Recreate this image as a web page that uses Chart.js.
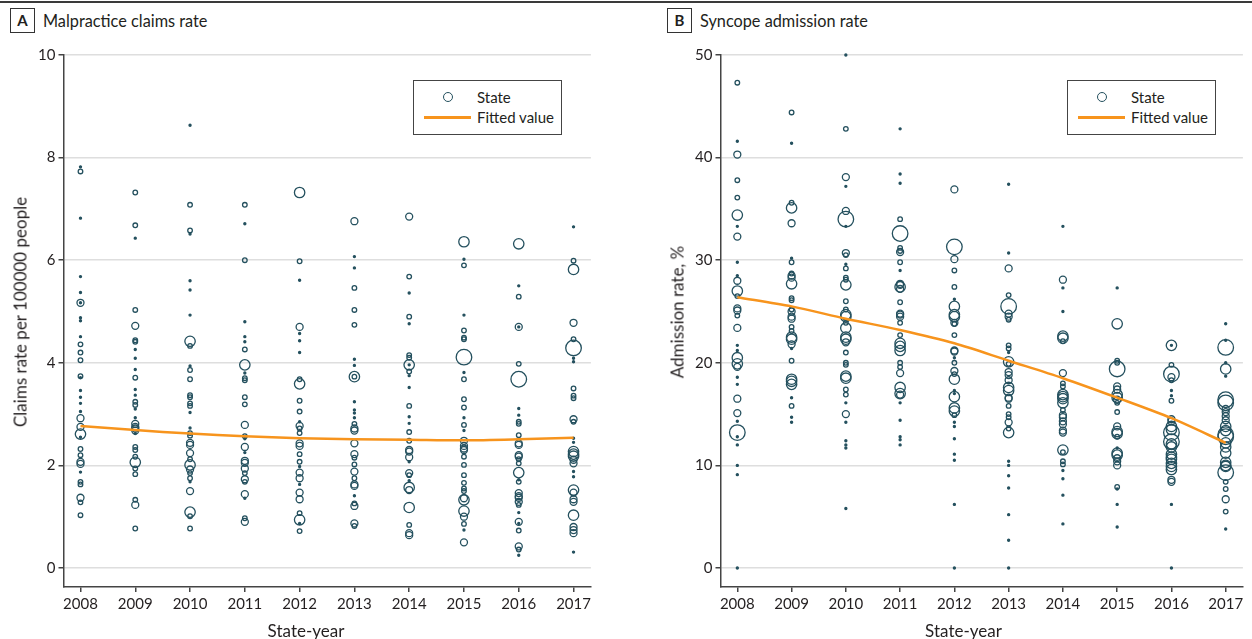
<!DOCTYPE html>
<html>
<head>
<meta charset="utf-8">
<script src="https://cdn.jsdelivr.net/npm/chart.js@4.4.1/dist/chart.umd.min.js"></script>
<style>
    body { margin: 0; width: 1252px; height: 639px; overflow: hidden; background: #fff; position: relative; font-family: Lato, sans-serif; color: #231f20; }
    canvas { position: absolute; top: 0; }
    .rule { position: absolute; left: 0; top: 1px; width: 1252px; height: 2px; background: #3a3a3a; }
    .tag { position: absolute; top: 8px; width: 23px; height: 23px; border: 1px solid #333; font-weight: bold; font-size: 15px; line-height: 23px; text-align: center; }
    .head { position: absolute; top: 8px; font-size: 16.3px; line-height: 25px; }
    .ytitle { position: absolute; font-size: 17px; white-space: nowrap; transform: translate(-50%, -50%) rotate(-90deg); }
    .xtitle { position: absolute; font-size: 17px; white-space: nowrap; transform: translate(-50%, -50%); }
    .legend { position: absolute; top: 80px; width: 147px; height: 53px; border: 1px solid #444; background: #fff; font-size: 15px; }
    .legend .mark { position: absolute; left: 29px; top: 11px; width: 8px; height: 8px; border: 1.5px solid #24505e; border-radius: 50%; }
    .legend .fit { position: absolute; left: 10px; top: 35px; width: 47px; height: 2.5px; background: #f7941d; }
    .legend span { position: absolute; left: 63px; line-height: 18px; }
</style>
</head>
<body>
<div class="rule"></div>

<div class="tag" style="left:10px">A</div>
<div class="head" style="left:43px">Malpractice claims rate</div>
<div class="tag" style="left:667px">B</div>
<div class="head" style="left:700px">Syncope admission rate</div>

<canvas id="claims" width="600" height="639" style="left:0"></canvas>
<canvas id="syncope" width="595" height="639" style="left:657px"></canvas>

<div class="ytitle" style="left:19.5px; top:312px">Claims rate per 100000 people</div>
<div class="xtitle" style="left:306px; top:630px">State-year</div>
<div class="ytitle" style="left:676.5px; top:312px">Admission rate, %</div>
<div class="xtitle" style="left:963.5px; top:630px">State-year</div>

<div class="legend" style="left:413px">
    <div class="mark"></div><span style="top:7px">State</span>
    <div class="fit"></div><span style="top:27px">Fitted value</span>
</div>
<div class="legend" style="left:1067px">
    <div class="mark"></div><span style="top:7px">State</span>
    <div class="fit"></div><span style="top:27px">Fitted value</span>
</div>

<script>
    const years = [2008, 2009, 2010, 2011, 2012, 2013, 2014, 2015, 2016, 2017];

    // Panel A: malpractice claims per 100000 people, one list per year
    const claimsRate = [
        [7.82, 7.73, 6.82, 5.68, 5.37, 5.17, 5.17, 4.88, 4.82, 4.51, 4.36, 4.20, 4.05, 3.74, 3.71, 3.46, 3.33, 3.21, 3.05, 2.92, 2.75, 2.61, 2.55, 2.32, 2.20, 2.07, 2.03, 1.87, 1.68, 1.63, 1.37, 1.28, 1.03],
        [7.32, 6.68, 6.43, 5.03, 4.72, 4.44, 4.41, 4.26, 4.09, 3.87, 3.71, 3.48, 3.37, 3.24, 3.18, 3.10, 2.93, 2.81, 2.75, 2.72, 2.68, 2.62, 2.36, 2.30, 2.17, 2.06, 1.94, 1.83, 1.33, 1.23, 0.77],
        [8.63, 7.08, 6.58, 6.51, 5.60, 5.42, 4.93, 4.42, 4.33, 3.94, 3.86, 3.68, 3.37, 3.33, 3.21, 3.16, 3.03, 2.73, 2.63, 2.58, 2.44, 2.40, 2.24, 2.12, 2.01, 1.92, 1.85, 1.75, 1.68, 1.50, 1.09, 1.01, 0.77],
        [7.08, 6.71, 6.00, 4.80, 4.51, 4.41, 4.26, 3.96, 3.80, 3.70, 3.66, 3.33, 3.19, 2.79, 2.57, 2.52, 2.36, 2.25, 2.09, 2.05, 1.94, 1.85, 1.73, 1.68, 1.44, 1.36, 0.97, 0.90],
        [7.32, 5.98, 5.61, 4.70, 4.57, 4.43, 4.20, 3.68, 3.59, 3.26, 3.05, 2.85, 2.77, 2.72, 2.63, 2.43, 2.38, 2.22, 2.07, 1.98, 1.86, 1.75, 1.63, 1.47, 1.34, 1.07, 0.94, 0.87, 0.72],
        [6.76, 6.07, 5.85, 5.46, 5.03, 4.74, 4.07, 3.95, 3.73, 3.73, 3.24, 3.08, 3.02, 2.93, 2.81, 2.72, 2.68, 2.43, 2.22, 2.15, 2.02, 1.88, 1.75, 1.63, 1.60, 1.41, 1.26, 1.21, 0.87, 0.82],
        [6.85, 5.68, 5.36, 4.90, 4.76, 4.15, 4.10, 3.96, 3.96, 3.83, 3.75, 3.52, 3.16, 2.95, 2.82, 2.65, 2.48, 2.30, 2.27, 2.16, 2.07, 1.85, 1.81, 1.70, 1.57, 1.52, 1.18, 0.84, 0.68, 0.64],
        [6.36, 6.02, 5.90, 4.93, 4.63, 4.49, 4.46, 4.11, 3.81, 3.68, 3.29, 3.13, 2.93, 2.79, 2.68, 2.48, 2.38, 2.33, 2.30, 2.17, 2.01, 1.81, 1.66, 1.55, 1.50, 1.36, 1.33, 1.11, 1.00, 0.86, 0.74, 0.50],
        [6.32, 5.50, 5.29, 4.70, 4.70, 3.98, 3.68, 3.11, 2.98, 2.85, 2.81, 2.59, 2.43, 2.40, 2.20, 2.17, 2.12, 2.04, 1.86, 1.72, 1.68, 1.46, 1.40, 1.37, 1.29, 1.23, 1.08, 0.90, 0.87, 0.73, 0.42, 0.36, 0.25],
        [6.65, 5.99, 5.82, 4.78, 4.46, 4.29, 4.09, 4.02, 3.50, 3.36, 3.31, 2.90, 2.85, 2.53, 2.45, 2.27, 2.22, 2.18, 2.11, 2.04, 1.88, 1.78, 1.52, 1.47, 1.34, 1.29, 1.03, 0.80, 0.74, 0.68, 0.31]
    ];
    // state weight class (1 smallest .. 5 largest), same order as claimsRate
    const claimsWeight = [
        [1, 2, 1, 1, 1, 3, 1, 1, 1, 1, 2, 2, 2, 2, 1, 1, 1, 1, 1, 3, 3, 4, 1, 2, 2, 3, 3, 1, 2, 2, 3, 2, 2],
        [2, 2, 1, 2, 3, 2, 2, 1, 1, 1, 2, 1, 1, 2, 2, 1, 1, 3, 3, 3, 3, 1, 2, 2, 2, 4, 2, 2, 2, 3, 2],
        [1, 2, 2, 1, 1, 1, 1, 4, 2, 1, 2, 2, 2, 2, 2, 2, 1, 1, 2, 2, 3, 3, 3, 2, 4, 3, 2, 2, 1, 3, 4, 2, 2],
        [2, 1, 2, 1, 1, 1, 2, 4, 1, 2, 2, 2, 2, 3, 2, 1, 3, 1, 3, 3, 3, 2, 3, 2, 3, 1, 2, 3],
        [4, 2, 1, 3, 1, 1, 1, 2, 4, 2, 2, 1, 3, 2, 2, 3, 3, 2, 2, 1, 3, 3, 1, 3, 3, 2, 4, 1, 2],
        [3, 1, 1, 2, 2, 2, 1, 1, 4, 2, 1, 1, 1, 1, 2, 3, 3, 3, 3, 2, 2, 3, 2, 3, 3, 1, 2, 3, 3, 2],
        [3, 2, 1, 2, 1, 2, 2, 4, 1, 2, 1, 1, 2, 1, 1, 2, 2, 3, 3, 3, 1, 3, 2, 1, 4, 3, 4, 2, 3, 3],
        [4, 1, 2, 1, 2, 2, 2, 5, 1, 2, 2, 2, 1, 2, 1, 3, 3, 3, 3, 2, 2, 2, 2, 2, 2, 3, 4, 4, 3, 2, 1, 3],
        [4, 1, 2, 3, 1, 2, 5, 1, 1, 2, 2, 2, 3, 3, 3, 3, 2, 2, 4, 1, 2, 3, 3, 3, 3, 2, 1, 3, 1, 2, 3, 2, 1],
        [1, 2, 4, 3, 2, 5, 1, 1, 2, 2, 2, 3, 2, 1, 1, 4, 4, 4, 3, 3, 1, 1, 4, 3, 3, 3, 4, 3, 3, 3, 1]
    ];
    const claimsFitted = [2.77, 2.69, 2.62, 2.57, 2.53, 2.51, 2.50, 2.49, 2.51, 2.54];
    const claimsTicks = [0, 2, 4, 6, 8, 10];

    // Panel B: syncope admission rate (%), one list per year
    const syncopeRate = [
        [47.3, 41.6, 40.3, 37.8, 36.1, 34.4, 33.3, 32.3, 29.8, 28.5, 28.0, 27.0, 26.5, 25.3, 25.1, 24.6, 23.4, 21.7, 21.2, 20.5, 19.9, 19.6, 18.6, 17.9, 16.5, 15.1, 14.3, 13.2, 12.8, 12.0, 10.0, 9.1, 0],
        [44.4, 41.4, 35.6, 35.1, 33.6, 30.2, 29.8, 28.7, 28.5, 28.3, 27.7, 26.3, 26.1, 25.2, 25.0, 24.5, 24.3, 23.5, 23.1, 22.5, 22.3, 21.8, 21.4, 20.2, 18.4, 18.2, 17.9, 16.6, 15.8, 14.7, 14.2],
        [50.0, 42.8, 38.1, 37.2, 34.8, 34.0, 33.3, 30.7, 30.5, 29.6, 29.2, 28.3, 28.1, 27.6, 26.0, 25.2, 24.7, 24.5, 23.9, 23.4, 22.5, 22.3, 22.0, 21.0, 20.0, 19.8, 18.7, 18.5, 17.4, 16.9, 16.1, 15.0, 14.2, 12.4, 12.0, 11.7, 5.8],
        [42.8, 38.4, 37.5, 34.0, 32.6, 31.2, 30.9, 30.8, 29.8, 29.0, 27.7, 27.6, 27.4, 27.2, 25.9, 24.8, 24.7, 24.5, 23.9, 22.7, 21.9, 21.6, 21.2, 20.0, 19.6, 19.0, 17.6, 17.0, 16.9, 16.1, 14.4, 12.8, 12.5, 12.0],
        [36.9, 31.3, 30.1, 29.0, 27.4, 26.2, 25.5, 24.7, 24.5, 23.9, 23.8, 22.7, 21.2, 21.1, 20.5, 20.0, 19.2, 18.9, 18.4, 17.3, 17.0, 16.7, 15.6, 15.3, 14.9, 14.2, 13.8, 12.6, 11.1, 10.5, 6.2, 0],
        [37.4, 30.7, 29.2, 26.6, 25.5, 24.8, 24.5, 24.2, 21.7, 21.4, 21.0, 20.1, 19.9, 19.1, 18.8, 18.3, 17.6, 17.3, 16.6, 16.5, 15.8, 15.0, 14.7, 14.2, 13.6, 13.2, 10.4, 10.0, 9.0, 7.8, 5.2, 2.7, 0],
        [33.3, 28.1, 27.3, 25.0, 22.6, 22.4, 22.1, 19.0, 18.0, 17.7, 16.9, 16.7, 16.5, 16.1, 15.4, 14.9, 14.7, 14.3, 14.0, 13.4, 13.2, 11.5, 11.3, 10.4, 10.1, 9.5, 8.7, 7.1, 4.3],
        [27.3, 23.8, 20.2, 20.0, 19.4, 17.7, 17.4, 16.9, 16.6, 16.4, 16.1, 15.2, 13.8, 13.3, 13.1, 12.8, 11.7, 11.2, 11.0, 10.7, 10.4, 10.0, 7.9, 7.7, 6.2, 4.0],
        [21.7, 21.7, 19.8, 18.9, 18.6, 18.3, 17.3, 16.8, 16.3, 14.5, 14.3, 13.8, 13.5, 13.2, 12.3, 12.1, 11.8, 11.1, 10.8, 10.6, 10.2, 9.9, 9.6, 8.6, 8.4, 6.2, 0],
        [23.8, 22.2, 21.5, 20.0, 19.4, 18.7, 16.4, 16.1, 15.5, 15.2, 14.8, 14.4, 13.8, 13.4, 13.0, 12.8, 12.2, 11.8, 11.2, 10.3, 10.0, 9.9, 9.3, 8.4, 7.7, 6.7, 5.5, 3.8]
    ];
    const syncopeWeight = [
        [2, 1, 3, 2, 2, 4, 1, 3, 1, 1, 3, 4, 2, 3, 3, 2, 3, 1, 1, 4, 4, 3, 1, 1, 3, 3, 1, 5, 1, 1, 1, 1, 1],
        [2, 1, 2, 4, 3, 1, 2, 2, 3, 3, 4, 2, 2, 2, 3, 3, 3, 2, 2, 4, 4, 3, 1, 2, 4, 4, 4, 1, 2, 1, 1],
        [1, 2, 3, 1, 3, 5, 1, 3, 2, 1, 2, 2, 2, 4, 2, 2, 4, 4, 2, 4, 4, 4, 3, 2, 2, 2, 4, 4, 2, 2, 1, 3, 1, 1, 1, 1, 1],
        [1, 1, 1, 2, 5, 2, 2, 3, 2, 1, 3, 3, 4, 3, 2, 3, 3, 3, 2, 2, 4, 4, 4, 2, 2, 3, 4, 4, 3, 1, 1, 1, 1, 1],
        [3, 5, 3, 2, 2, 1, 4, 4, 4, 3, 2, 2, 3, 3, 1, 2, 3, 2, 4, 1, 1, 4, 4, 4, 2, 1, 1, 1, 1, 1, 1, 1],
        [1, 1, 3, 2, 5, 3, 3, 2, 2, 2, 1, 4, 2, 3, 3, 3, 4, 4, 3, 3, 2, 2, 2, 3, 2, 4, 1, 1, 1, 1, 1, 1, 1],
        [1, 3, 1, 1, 4, 4, 2, 3, 2, 2, 4, 4, 4, 4, 2, 3, 3, 3, 3, 3, 3, 4, 2, 2, 2, 1, 1, 1, 1],
        [1, 4, 2, 2, 5, 3, 3, 4, 4, 3, 2, 2, 3, 4, 4, 2, 1, 4, 4, 3, 3, 3, 2, 1, 1, 1],
        [4, 1, 2, 5, 3, 2, 1, 1, 2, 3, 3, 4, 4, 5, 5, 4, 4, 4, 4, 4, 4, 4, 4, 3, 3, 1, 1],
        [1, 1, 5, 1, 4, 1, 5, 5, 3, 3, 3, 3, 4, 4, 5, 5, 4, 4, 4, 4, 4, 4, 5, 2, 2, 3, 2, 1]
    ];
    const syncopeFitted = [26.4, 25.5, 24.3, 23.2, 21.9, 20.2, 18.5, 16.6, 14.6, 12.2];
    const syncopeTicks = [0, 10, 20, 30, 40, 50];

    const radiusByWeight = [0, 1, 2.3, 3.5, 5.2, 7.8];
    const stateColor = '#24505e';
    const fitColor = '#f7941d';

    function drawPanel(id, rates, weights, fitted, ticks, yMin) {
        const points = [];
        const radii = [];
        years.forEach((year, i) => rates[i].forEach((value, j) => {
            points.push({ x: year, y: value });
            radii.push(radiusByWeight[weights[i][j]]);
        }));
        const line = years.map((year, i) => ({ x: year, y: fitted[i] }));

        new Chart(document.getElementById(id), {
            type: 'scatter',
            data: { datasets: [
                { type: 'line', label: 'Fitted value', data: line, order: 0, borderColor: fitColor, borderWidth: 2.5, pointRadius: 0, tension: 0.3, fill: false },
                { label: 'State', data: points, order: 1, clip: false,
                  pointRadius: (ctx) => radii[ctx.dataIndex],
                  pointBorderWidth: (ctx) => radii[ctx.dataIndex] <= 1 ? 1.4 : 1.3,
                  pointBorderColor: stateColor,
                  pointBackgroundColor: (ctx) => radii[ctx.dataIndex] <= 1 ? stateColor : 'rgba(0,0,0,0)' },
            ]},
            options: {
                responsive: false, animation: false, events: [],
                layout: { padding: { top: 55, right: 8, left: 0, bottom: 0 } },
                plugins: { legend: { display: false }, tooltip: { enabled: false } },
                scales: {
                    x: {
                        type: 'linear', min: 2007.69, max: 2017.317,
                        afterBuildTicks: (scale) => { scale.ticks = years.map((v) => ({ value: v })); },
                        afterFit: (scale) => { scale.height = 52; },
                        ticks: { color: '#231f20', font: { family: 'Lato', size: 15 }, padding: 3, maxRotation: 0, autoSkip: false, callback: (v) => String(v) },
                        grid: { drawOnChartArea: false, tickLength: 5, color: '#444', lineWidth: 1.5 },
                        border: { color: '#444', width: 1.5 },
                    },
                    y: {
                        min: yMin, max: ticks[ticks.length - 1],
                        afterBuildTicks: (scale) => { scale.ticks = ticks.map((v) => ({ value: v })); },
                        afterFit: (scale) => { scale.width = 63.5; },
                        ticks: { color: '#231f20', font: { family: 'Lato', size: 15 }, padding: 3 },
                        grid: { color: '#dedede', lineWidth: 1.5, tickColor: '#444', tickLength: 5 },
                        border: { color: '#444', width: 1.5 },
                    },
                },
            },
        });
    }

    drawPanel('claims', claimsRate, claimsWeight, claimsFitted, claimsTicks, -0.37);
    drawPanel('syncope', syncopeRate, syncopeWeight, syncopeFitted, syncopeTicks, -1.85);
</script>
</body>
</html>
